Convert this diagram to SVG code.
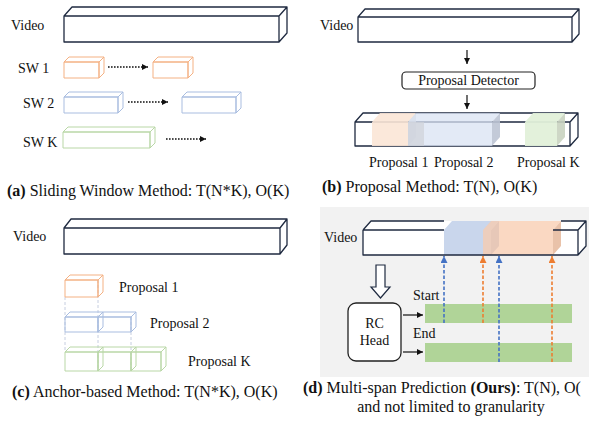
<svg xmlns="http://www.w3.org/2000/svg" width="589" height="423" viewBox="0 0 589 423">
<defs>
<style>
text{font-family:"Liberation Serif","Times New Roman",serif;fill:#111;}
.lbl{font-size:14px;}
.cap{font-size:16px;}
.b{font-weight:bold;}
.main{fill:none;stroke:#1f2a40;stroke-width:1.3;stroke-linejoin:round;}
.sw-o{fill:none;stroke:#f4b183;stroke-width:1;}
.sw-b{fill:none;stroke:#a9bde0;stroke-width:1;}
.sw-g{fill:none;stroke:#b9d7a6;stroke-width:1;}
.dot{stroke:#111;stroke-width:1.6;stroke-dasharray:1.6 1.4;fill:none;}
.solid{stroke:#111;stroke-width:1.2;fill:none;}
.guide{stroke:#b8c2d8;stroke-width:0.8;stroke-dasharray:3 2;fill:none;}
.dblue{stroke:#4472c4;stroke-width:1.6;stroke-dasharray:3.5 2;fill:none;}
.dorange{stroke:#ed7d31;stroke-width:1.6;stroke-dasharray:3.5 2;fill:none;}
</style>
<marker id="ah" viewBox="0 0 10 10" refX="10" refY="5" markerWidth="7" markerHeight="6" markerUnits="userSpaceOnUse" orient="auto"><path d="M0,0L10,5L0,10z" fill="#111"/></marker>
<marker id="ahb" viewBox="0 0 10 10" refX="10" refY="5" markerWidth="8" markerHeight="7" markerUnits="userSpaceOnUse" orient="auto"><path d="M0,0L10,5L0,10z" fill="#4472c4"/></marker>
<marker id="aho" viewBox="0 0 10 10" refX="10" refY="5" markerWidth="8" markerHeight="7" markerUnits="userSpaceOnUse" orient="auto"><path d="M0,0L10,5L0,10z" fill="#ed7d31"/></marker>
</defs>
<rect width="589" height="423" fill="#fff"/>

<!-- Panel (a) -->
<g id="a-video">
<text class="lbl" x="11" y="30">Video</text>
<path class="main" d="M64,16h215v26h-215zM64,16l8,-9h215l-8,9zM279,16l8,-9v26l-8,9z"/>
</g>
<g id="a-sw1">
<text class="lbl" x="18" y="73">SW 1</text>
<path class="sw-o" d="M64,62h35v16h-35zM64,62l5,-5h35l-5,5zM99,62l5,-5v16l-5,5z"/>
<path class="sw-o" d="M153,62h35v16h-35zM153,62l5,-5h35l-5,5zM188,62l5,-5v16l-5,5z"/>
</g>
<g id="a-sw2">
<text class="lbl" x="23" y="108">SW 2</text>
<path class="sw-b" d="M64,97h54v16h-54zM64,97l5,-5h54l-5,5zM118,97l5,-5v16l-5,5z"/>
<path class="sw-b" d="M182,97h54v16h-54zM182,97l5,-5h54l-5,5zM236,97l5,-5v16l-5,5z"/>
</g>
<g id="a-swk">
<text class="lbl" x="23" y="147">SW K</text>
<path class="sw-g" d="M63,132h87v16h-87zM63,132l5,-5h87l-5,5zM150,132l5,-5v16l-5,5z"/>
</g>
<text class="cap" x="7" y="196"><tspan class="b">(a)</tspan> Sliding Window Method: T(N*K), O(K)</text>

<!-- Panel (b) -->
<g id="b-video">
<text class="lbl" x="320" y="30">Video</text>
<path class="main" d="M358,17h214v25h-214zM358,17l7,-8h214l-7,8zM572,17l7,-8v25l-7,8z"/>
</g>
<g id="b-detector">
<rect x="402" y="72" width="133" height="17" rx="4" fill="#fff" stroke="#222" stroke-width="1.2"/>
<text class="lbl" x="468.5" y="85" text-anchor="middle">Proposal Detector</text>
</g>
<g id="b-proposals">
<path class="main" d="M355,122h215v24h-215zM355,122l8,-9h215l-8,9zM570,122l8,-9v24l-8,9z"/>
<path d="M372,122h36v24h-36zM372,122l8,-9h36l-8,9z" fill="#fbe5d6" opacity="0.9"/>
<path d="M408,122l8,-9v24l-8,9z" fill="#cfcfcf" opacity="0.8"/>
<path d="M408,122h84v24h-84zM408,122l8,-9h84l-8,9z" fill="#dae3f3" opacity="0.75"/>
<path d="M408,122h16v24h-16z" fill="#cfd2d8" opacity="0.7"/>
<path d="M492,122l8,-9v24l-8,9z" fill="#bcc4d4" opacity="0.9"/>
<path d="M525,122h32v24h-32zM525,122l8,-9h32l-8,9z" fill="#e2f0d9" opacity="0.95"/>
<path d="M557,122l8,-9v24l-8,9z" fill="#c9d3c0" opacity="0.9"/>
<text class="lbl" x="369" y="167">Proposal 1</text>
<text class="lbl" x="434" y="167">Proposal 2</text>
<text class="lbl" x="517" y="167">Proposal K</text>
</g>
<text class="cap" x="322" y="192"><tspan class="b">(b)</tspan> Proposal Method: T(N), O(K)</text>

<!-- Panel (c) -->
<g id="c-video">
<text class="lbl" x="13" y="241">Video</text>
<path class="main" d="M64,228h216v26h-216zM64,228l7,-9h216l-7,9zM280,228l7,-9v26l-7,9z"/>
</g>
<g id="c-anchors">
<path class="guide" d="M65,297V352M98,280V371M131,317V371"/>
<path class="sw-o" d="M65,280h33v17h-33zM65,280l5,-5h33l-5,5zM98,280l5,-5v17l-5,5z"/>
<path class="sw-b" d="M65,317h33v15h-33zM65,317l5,-5h33l-5,5zM98,317l5,-5v15l-5,5z"/>
<path class="sw-b" d="M98,317h33v15h-33zM98,317l5,-5h33l-5,5zM131,317l5,-5v15l-5,5z"/>
<path class="sw-g" d="M65,352h33v19h-33zM65,352l5,-5h33l-5,5zM98,352l5,-5v19l-5,5z"/>
<path class="sw-g" d="M98,352h33v19h-33zM98,352l5,-5h33l-5,5zM131,352l5,-5v19l-5,5z"/>
<path class="sw-g" d="M131,352h30v19h-30zM131,352l5,-5h30l-5,5zM161,352l5,-5v19l-5,5z"/>
<text class="lbl" x="119" y="292">Proposal 1</text>
<text class="lbl" x="150" y="328">Proposal 2</text>
<text class="lbl" x="188" y="366">Proposal K</text>
</g>
<text class="cap" x="12" y="397"><tspan class="b">(c)</tspan> Anchor-based Method: T(N*K), O(K)</text>

<!-- Panel (d) -->
<rect x="320" y="207" width="269" height="170" fill="#f2f2f2"/>
<g id="d-video">
<text class="lbl" x="324" y="242">Video</text>
<path d="M363,230h215v25h-215zM363,230l8,-9h215l-8,9zM578,230l8,-9v25l-8,9z" fill="#fff"/>
<path d="M444,230h47v25h-47zM444,230l8,-9h47l-8,9z" fill="#c9d6ec"/>
<path d="M491,230l8,-9v25l-8,9z" fill="#b3bfd6"/>
<path d="M483,230h70v25h-70zM483,230l8,-9h70l-8,9z" fill="#f8cbad" opacity="0.75"/>
<path d="M553,230l8,-9v25l-8,9z" fill="#e5b79a" opacity="0.85"/>
<path class="main" d="M363,230h81M553,230h25M363,230v25h215v-25M363,230l8,-9h73M561,221h25l-8,9M578,230l8,-9v25l-8,9"/>
</g>
<g id="d-rchead">
<polygon points="376,265 385,265 385,287 390,287 380.5,298 371,287 376,287" fill="#fff" stroke="#1f2a40" stroke-width="1.2"/>
<rect x="348" y="303" width="53" height="58" rx="8" fill="#fff" stroke="#222" stroke-width="1.3"/>
<text class="lbl" x="374.5" y="328" text-anchor="middle">RC</text>
<text class="lbl" x="374.5" y="345" text-anchor="middle">Head</text>
</g>
<g id="d-start">
<text class="lbl" x="413" y="300">Start</text>
<rect x="425" y="304" width="147" height="19" fill="#b0d498"/>
</g>
<g id="d-end">
<text class="lbl" x="413" y="338">End</text>
<rect x="425" y="343" width="147" height="19" fill="#b0d498"/>
</g>
<text class="cap" x="303" y="393"><tspan class="b">(d)</tspan> Multi-span Prediction <tspan class="b">(Ours)</tspan>: T(N), O(</text>
<text class="cap" x="451" y="412" text-anchor="middle">and not limited to granularity</text>

<!-- Connectors -->
<g id="connectors">
<line class="dot" x1="108" y1="67" x2="148" y2="67" marker-end="url(#ah)"/>
<line class="dot" x1="128" y1="102" x2="168" y2="102" marker-end="url(#ah)"/>
<line class="dot" x1="166" y1="139" x2="206" y2="139" marker-end="url(#ah)"/>
<line class="solid" x1="467" y1="50" x2="467" y2="64" marker-end="url(#ah)"/>
<line class="solid" x1="467" y1="95" x2="467" y2="109" marker-end="url(#ah)"/>
<line class="solid" x1="403" y1="315" x2="423" y2="315" marker-end="url(#ah)"/>
<line class="solid" x1="403" y1="352" x2="423" y2="352" marker-end="url(#ah)"/>
<line class="dblue" x1="444" y1="323" x2="444" y2="256" marker-end="url(#ahb)"/>
<line class="dorange" x1="483" y1="323" x2="483" y2="256" marker-end="url(#aho)"/>
<line class="dblue" x1="499" y1="362" x2="499" y2="256" marker-end="url(#ahb)"/>
<line class="dorange" x1="552" y1="362" x2="552" y2="256" marker-end="url(#aho)"/>
</g>
</svg>
